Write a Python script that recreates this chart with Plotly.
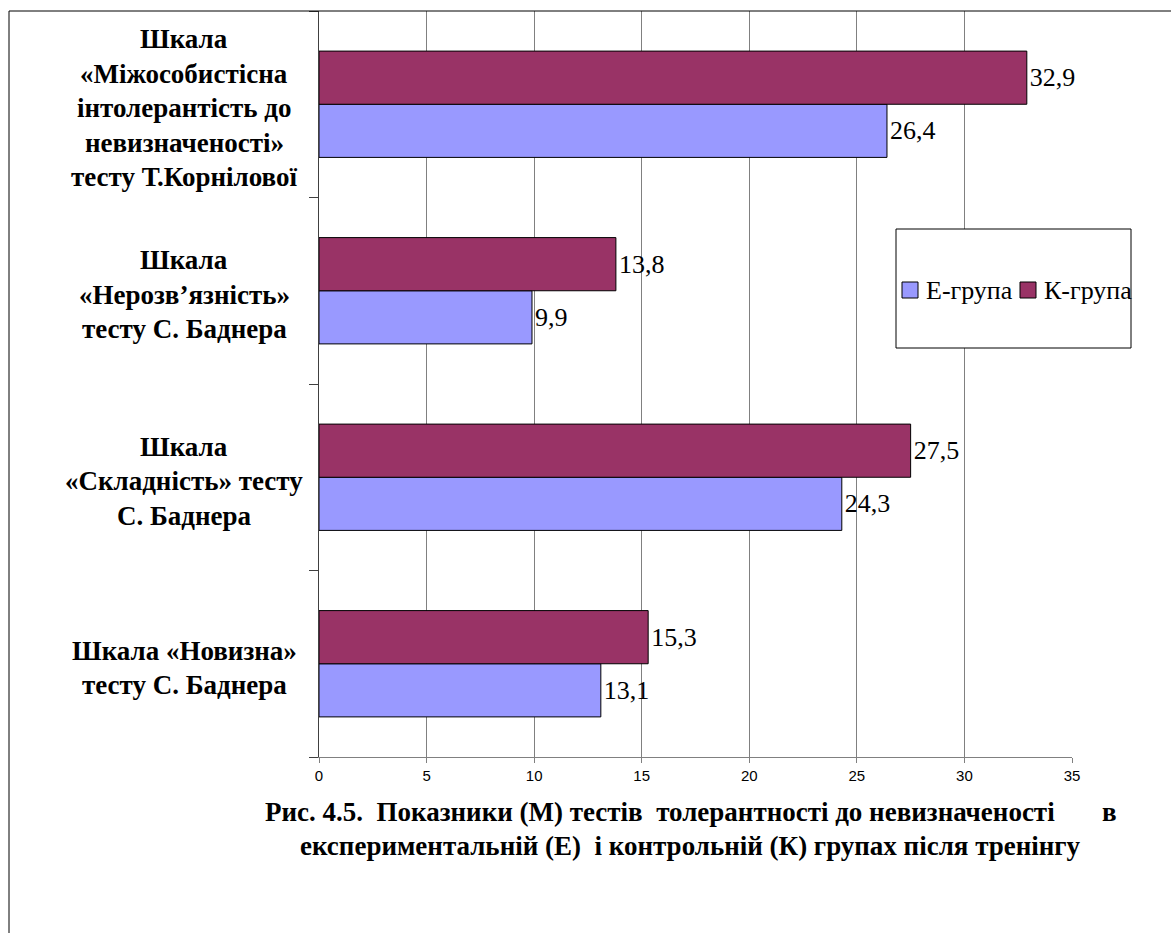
import plotly.graph_objects as go

# Scales (bottom to top on the chart)
categories = ["novyzna", "skladnist", "nerozviaznist", "mizhosobystisna"]
category_lines = [
    ["Шкала «Новизна»", "тесту С. Баднера"],
    ["Шкала", "«Складність» тесту", "С. Баднера"],
    ["Шкала", "«Нерозв’язність»", "тесту С. Баднера"],
    ["Шкала", "«Міжособистісна", "інтолерантість до", "невизначеності»", "тесту Т.Корнілової"],
]
e_group = [13.1, 24.3, 9.9, 26.4]
k_group = [15.3, 27.5, 13.8, 32.9]
series_names = ["Е-група", "К-група"]
series_colors = ["#9999FF", "#993366"]
x_ticks = [0, 5, 10, 15, 20, 25, 30, 35]
caption_lines = [
    "Рис. 4.5.  Показники (М) тестів  толерантності до невизначеності       в",
    "експериментальній (Е)  і контрольній (К) групах після тренінгу",
]

W, H = 1171, 933
ML, MR, MT, MB = 319, 99, 11, 176
PW, PH = W - ML - MR, H - MT - MB

SERIF = "Liberation Serif"
SANS = "Liberation Sans"


def px_x(p):
    return (p - ML) / PW


def px_y(p):
    return (H - MB - p) / PH


def fmt(v):
    return f"{v:.1f}".replace(".", ",")


fig = go.Figure()
for name, vals, color in zip(series_names, [e_group, k_group], series_colors):
    fig.add_trace(go.Bar(
        y=categories, x=vals, name=name, orientation="h",
        marker=dict(color=color, line=dict(color="#000000", width=1)),
        text=[fmt(v) for v in vals], textposition="outside",
        textfont=dict(family=SERIF, size=26, color="#000000"),
        cliponaxis=False, hoverinfo="skip", showlegend=False,
    ))

# Category labels, one annotation per line for Word-like line spacing
line_step = 34.5
for cat, lines in zip(categories, category_lines):
    n = len(lines)
    for i, t in enumerate(lines):
        off = (i - (n - 1) / 2) * line_step + 4
        fig.add_annotation(
            x=px_x(184), xref="paper", y=cat, yref="y",
            text=f"<b>{t}</b>", showarrow=False, xanchor="center",
            yanchor="middle", yshift=-off,
            font=dict(family=SERIF, size=27, color="#000000"),
        )

# Figure caption
for i, t in enumerate(caption_lines):
    fig.add_annotation(
        x=px_x(690), xref="paper", y=px_y(812 + i * 34), yref="paper",
        text="<b>" + t.replace(" ", "\u00a0") + "</b>", showarrow=False,
        xanchor="center", yanchor="middle",
        font=dict(family=SERIF, size=27, color="#000000"),
    )

shapes = [
    # legend frame
    dict(type="rect", xref="paper", yref="paper",
         x0=px_x(896), x1=px_x(1131), y0=px_y(348), y1=px_y(229),
         line=dict(color="#000000", width=1), fillcolor="#FFFFFF", layer="above"),
    # outer page frame
    dict(type="line", xref="paper", yref="paper",
         x0=px_x(9), x1=px_x(9), y0=px_y(H + 5), y1=px_y(11),
         line=dict(color="#000000", width=1)),
    dict(type="line", xref="paper", yref="paper",
         x0=px_x(9), x1=px_x(W + 5), y0=px_y(11), y1=px_y(11),
         line=dict(color="#000000", width=1)),
]

# Legend entries: swatch + label, laid out in one row inside the frame
legend_cy = 290
swatch = 16
entry_x = [902, 1020]
for name, color, x0 in zip(series_names, series_colors, entry_x):
    shapes.append(dict(
        type="rect", xref="paper", yref="paper",
        x0=px_x(x0), x1=px_x(x0 + swatch),
        y0=px_y(legend_cy + swatch / 2), y1=px_y(legend_cy - swatch / 2),
        line=dict(color="#000000", width=1), fillcolor=color, layer="above",
    ))
    fig.add_annotation(
        x=px_x(x0 + swatch + 6), xref="paper", y=px_y(legend_cy), yref="paper",
        text=name, showarrow=False, xanchor="left", yanchor="middle",
        font=dict(family=SERIF, size=26, color="#000000"),
    )

fig.update_layout(
    width=W, height=H,
    margin=dict(l=ML, r=MR, t=MT, b=MB, pad=0),
    paper_bgcolor="#FFFFFF", plot_bgcolor="#FFFFFF",
    barmode="group", bargap=0.43, bargroupgap=0,
    shapes=shapes,
    showlegend=False,
    xaxis=dict(
        range=[0, 35], tickvals=x_ticks, ticktext=[str(t) for t in x_ticks],
        showgrid=True, gridcolor="#808080", gridwidth=1,
        showline=True, linecolor="#808080", linewidth=1,
        ticks="outside", ticklen=5, tickcolor="#808080",
        tickfont=dict(family=SANS, size=15, color="#000000"),
        zeroline=False, fixedrange=True,
    ),
    yaxis=dict(
        categoryorder="array", categoryarray=categories,
        showticklabels=False, tickson="boundaries",
        ticks="outside", ticklen=9, tickcolor="#404040",
        showline=True, linecolor="#404040", linewidth=1,
        showgrid=False, zeroline=False, fixedrange=True,
    ),
)

fig.write_html("out.html")
